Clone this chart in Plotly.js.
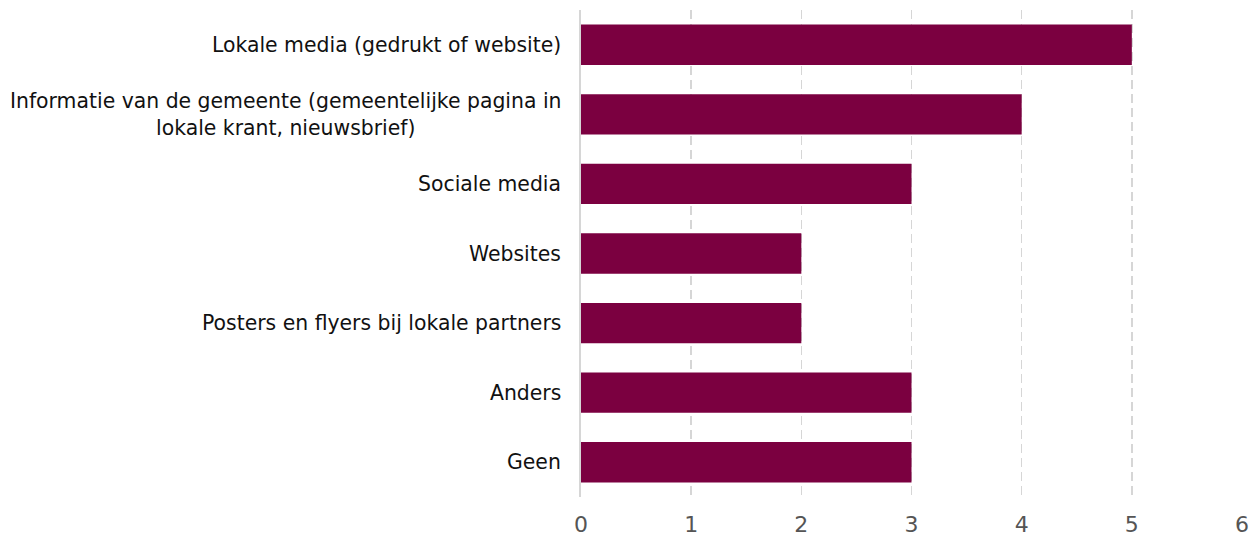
<!DOCTYPE html>
<html>
<head>
<meta charset="utf-8">
<script src="https://cdn.plot.ly/plotly-3.0.1.min.js"></script>
<style>html,body{margin:0;padding:0;background:#fff;}#chart{width:1258px;height:537px;}</style>
</head>
<body>
<div id="chart"></div>
<script>
const categories = [
  "Lokale media (gedrukt of website)",
  "Informatie van de gemeente (gemeentelijke pagina in<br>lokale krant, nieuwsbrief)",
  "Sociale media",
  "Websites",
  "Posters en flyers bij lokale partners",
  "Anders",
  "Geen"
];
const values = [5, 4, 3, 2, 2, 3, 3];
const xTicks = [0, 1, 2, 3, 4, 5, 6];

const FONT = "DejaVu Sans, Verdana, sans-serif";

const trace = {
  type: "bar",
  orientation: "h",
  y: categories,
  x: values,
  marker: {color: "#7b0040"},
  hoverinfo: "x+y"
};

const annotations = categories.map(c => ({
  xref: "paper", yref: "y", x: 0, y: c,
  text: c, showarrow: false, xanchor: "right", yanchor: "middle",
  align: "center", xshift: -18,
  font: {family: FONT, size: 20.4, color: "#111"}
}));

const layout = {
  width: 1258, height: 537,
  margin: {l: 581, r: 16, t: 10, b: 40},
  paper_bgcolor: "#fff", plot_bgcolor: "#fff",
  bargap: 0.42,
  showlegend: false,
  xaxis: {
    range: [0, 6], tickvals: xTicks, ticktext: xTicks.map(String),
    showgrid: true, gridcolor: "#d6d6d6", griddash: "9px,5px", gridwidth: 1.5,
    zeroline: false, showline: false, ticks: "",
    tickfont: {family: FONT, size: 22, color: "#555"},
    ticklabelstandoff: 12, fixedrange: true
  },
  yaxis: {
    autorange: "reversed", showticklabels: false, showgrid: false,
    showline: true, linecolor: "#d6d6d6", linewidth: 2, zeroline: false,
    ticks: "", fixedrange: true
  },
  annotations: annotations
};

Plotly.newPlot("chart", [trace], layout, {displayModeBar: false, staticPlot: true});
</script>
</body>
</html>
